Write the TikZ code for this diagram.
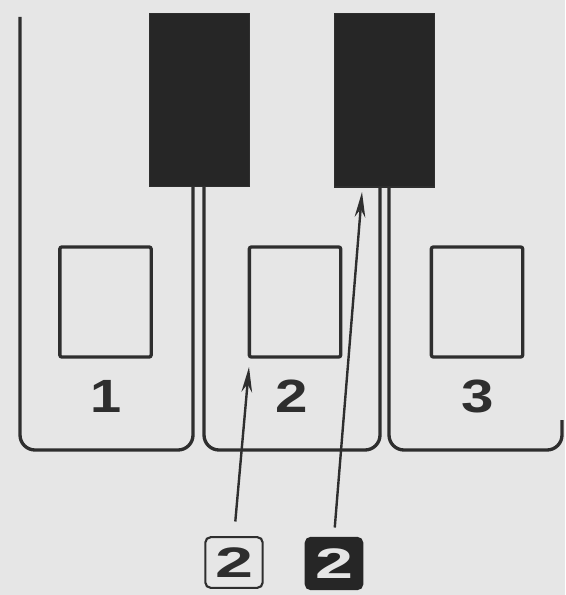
\documentclass[tikz,border=0pt]{standalone}
\usepackage{fontspec}
\setmainfont{Liberation Sans}
\usetikzlibrary{arrows.meta}
\definecolor{paper}{HTML}{E6E6E6}
\definecolor{ink}{HTML}{2E2E2E}
\definecolor{fillbk}{HTML}{262626}
\newcommand{\widedigit}[2]{\scalebox{#1}[1]{#2}}
\begin{document}
\begin{tikzpicture}[x=0.75pt,y=-0.75pt,
  outline/.style={draw=ink,line width=2.5pt,rounded corners=11.25pt},
  blackbox/.style={draw=ink,fill=fillbk,line width=1pt,minimum width=75pt,minimum height=130pt,inner sep=0pt},
  window/.style={draw=ink,fill=paper,line width=2.5pt,rounded corners=1.5pt,minimum width=68.5pt,minimum height=82.5pt,inner sep=0pt},
  num/.style={font=\bfseries\fontsize{35}{35}\selectfont,text=ink,inner sep=0pt},
  tagw/.style={draw=ink,fill=paper,line width=1.6pt,rounded corners=4pt,minimum width=43pt,minimum height=38pt,inner sep=0pt,font=\bfseries\fontsize{32}{32}\selectfont,text=ink},
  tagb/.style={draw=fillbk,fill=fillbk,line width=1pt,rounded corners=4pt,minimum width=43pt,minimum height=39pt,inner sep=0pt,font=\bfseries\fontsize{32}{32}\selectfont,text=paper},
  pointer/.style={draw=ink,line width=1.8pt,-{Stealth[length=19pt,width=8pt]}}]
\fill[paper] (0,0) rectangle (565,595);
\useasboundingbox (0,0) rectangle (565,595);
% black boxes
\node[blackbox] (bk1) at (199.5,100) {};
\node[blackbox] (bk2) at (384.5,100.5) {};
% panels
\draw[outline] (20,17) -- (20,450) -- (193,450) -- (193,186);
\draw[outline] (204,186) -- (204,450) -- (380,450) -- (380,187);
\draw[outline] (389,187) -- (389,450) -- (562,450) -- (562,420);
% windows
\node[window] (w1) at (105.5,302) {};
\node[window] (w2) at (295,302) {};
\node[window] (w3) at (477,302) {};
% numbers
\node[num] (n1) at (106,396.5) {\widedigit{1.2}{1}};
\node[num] (n2) at (292,396.5) {\widedigit{1.25}{2}};
\node[num] (n3) at (478,396.5) {\widedigit{1.25}{3}};
% tags
\node[tagw] (ta) at (234,562.5) {\widedigit{1.6}{2}};
\node[tagb] (tb) at (334,563.5) {\widedigit{1.6}{2}};
% pointers
\coordinate (pa) at (249,367);
\coordinate (pb) at (362,192);
\draw[pointer,shorten <=11pt] (ta.north) -- (pa);
\draw[pointer,shorten <=7pt] (tb.north) -- (pb);
\end{tikzpicture}
\end{document}
